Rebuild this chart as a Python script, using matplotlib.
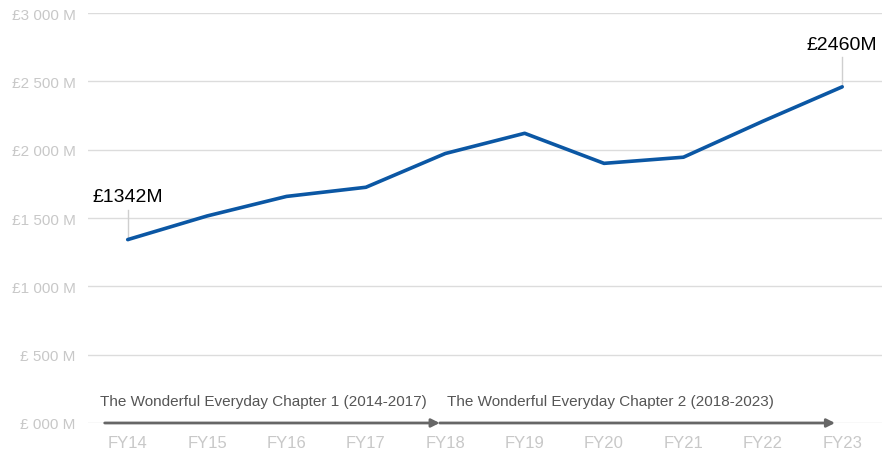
import matplotlib.pyplot as plt
import numpy as np

years = ['FY14', 'FY15', 'FY16', 'FY17', 'FY18', 'FY19', 'FY20', 'FY21', 'FY22', 'FY23']
revenue = [1342, 1515, 1658, 1725, 1972, 2120, 1900, 1945, 2208, 2460]
yticks = [0, 500, 1000, 1500, 2000, 2500, 3000]
ytick_labels = ['£ 000 M', '£ 500 M', '£1 000 M', '£1 500 M', '£2 000 M', '£2 500 M', '£3 000 M']
chapters = ['The Wonderful Everyday Chapter 1 (2014-2017)',
            'The Wonderful Everyday Chapter 2 (2018-2023)']

plt.rcParams['font.family'] = ['Liberation Sans', 'DejaVu Sans']

fig = plt.figure(figsize=(8.9, 4.56), dpi=100)
ax = fig.add_axes([0.0989, 0.0702, 0.892, 0.899])

x = np.arange(len(years))
ax.plot(x, revenue, color='#0b57a4', lw=2.6, solid_capstyle='round', zorder=4)

ax.set_xlim(-0.5, 9.5)
ax.set_ylim(0, 3000)
ax.set_yticks(yticks)
ax.set_yticklabels(ytick_labels, fontsize=11, color='#c8c8c8')
ax.set_xticks(x)
ax.set_xticklabels(years, fontsize=12, color='#c8c8c8')
ax.tick_params(length=0)
ax.tick_params(axis='y', pad=9)
ax.tick_params(axis='x', pad=9)
ax.grid(axis='y', color='#dcdcdc', lw=1)
ax.set_axisbelow(True)
for s in ax.spines.values():
    s.set_visible(False)

# first and last value callouts with leader lines
for i in (0, len(years) - 1):
    v = revenue[i]
    ax.plot([i, i], [v, v + 220], color='#cfcfcf', lw=1, zorder=3)
    ax.text(i, v + 250, '£%dM' % v, ha='center', va='bottom',
            fontsize=14, color='black')

# chapter arrows along the baseline
arrow_style = dict(arrowstyle='-|>', color='#666666', lw=2, mutation_scale=12,
                   shrinkA=0, shrinkB=0)
ax.annotate('', xy=(3.93, 0), xytext=(-0.29, 0), arrowprops=arrow_style,
            annotation_clip=False, zorder=5)
ax.annotate('', xy=(8.91, 0), xytext=(3.93, 0), arrowprops=arrow_style,
            annotation_clip=False, zorder=5)
ax.text(-0.35, 110, chapters[0], fontsize=11, color='#555555', va='bottom')
ax.text(4.02, 110, chapters[1], fontsize=11, color='#555555', va='bottom')

fig.savefig('out.png', dpi=100)
